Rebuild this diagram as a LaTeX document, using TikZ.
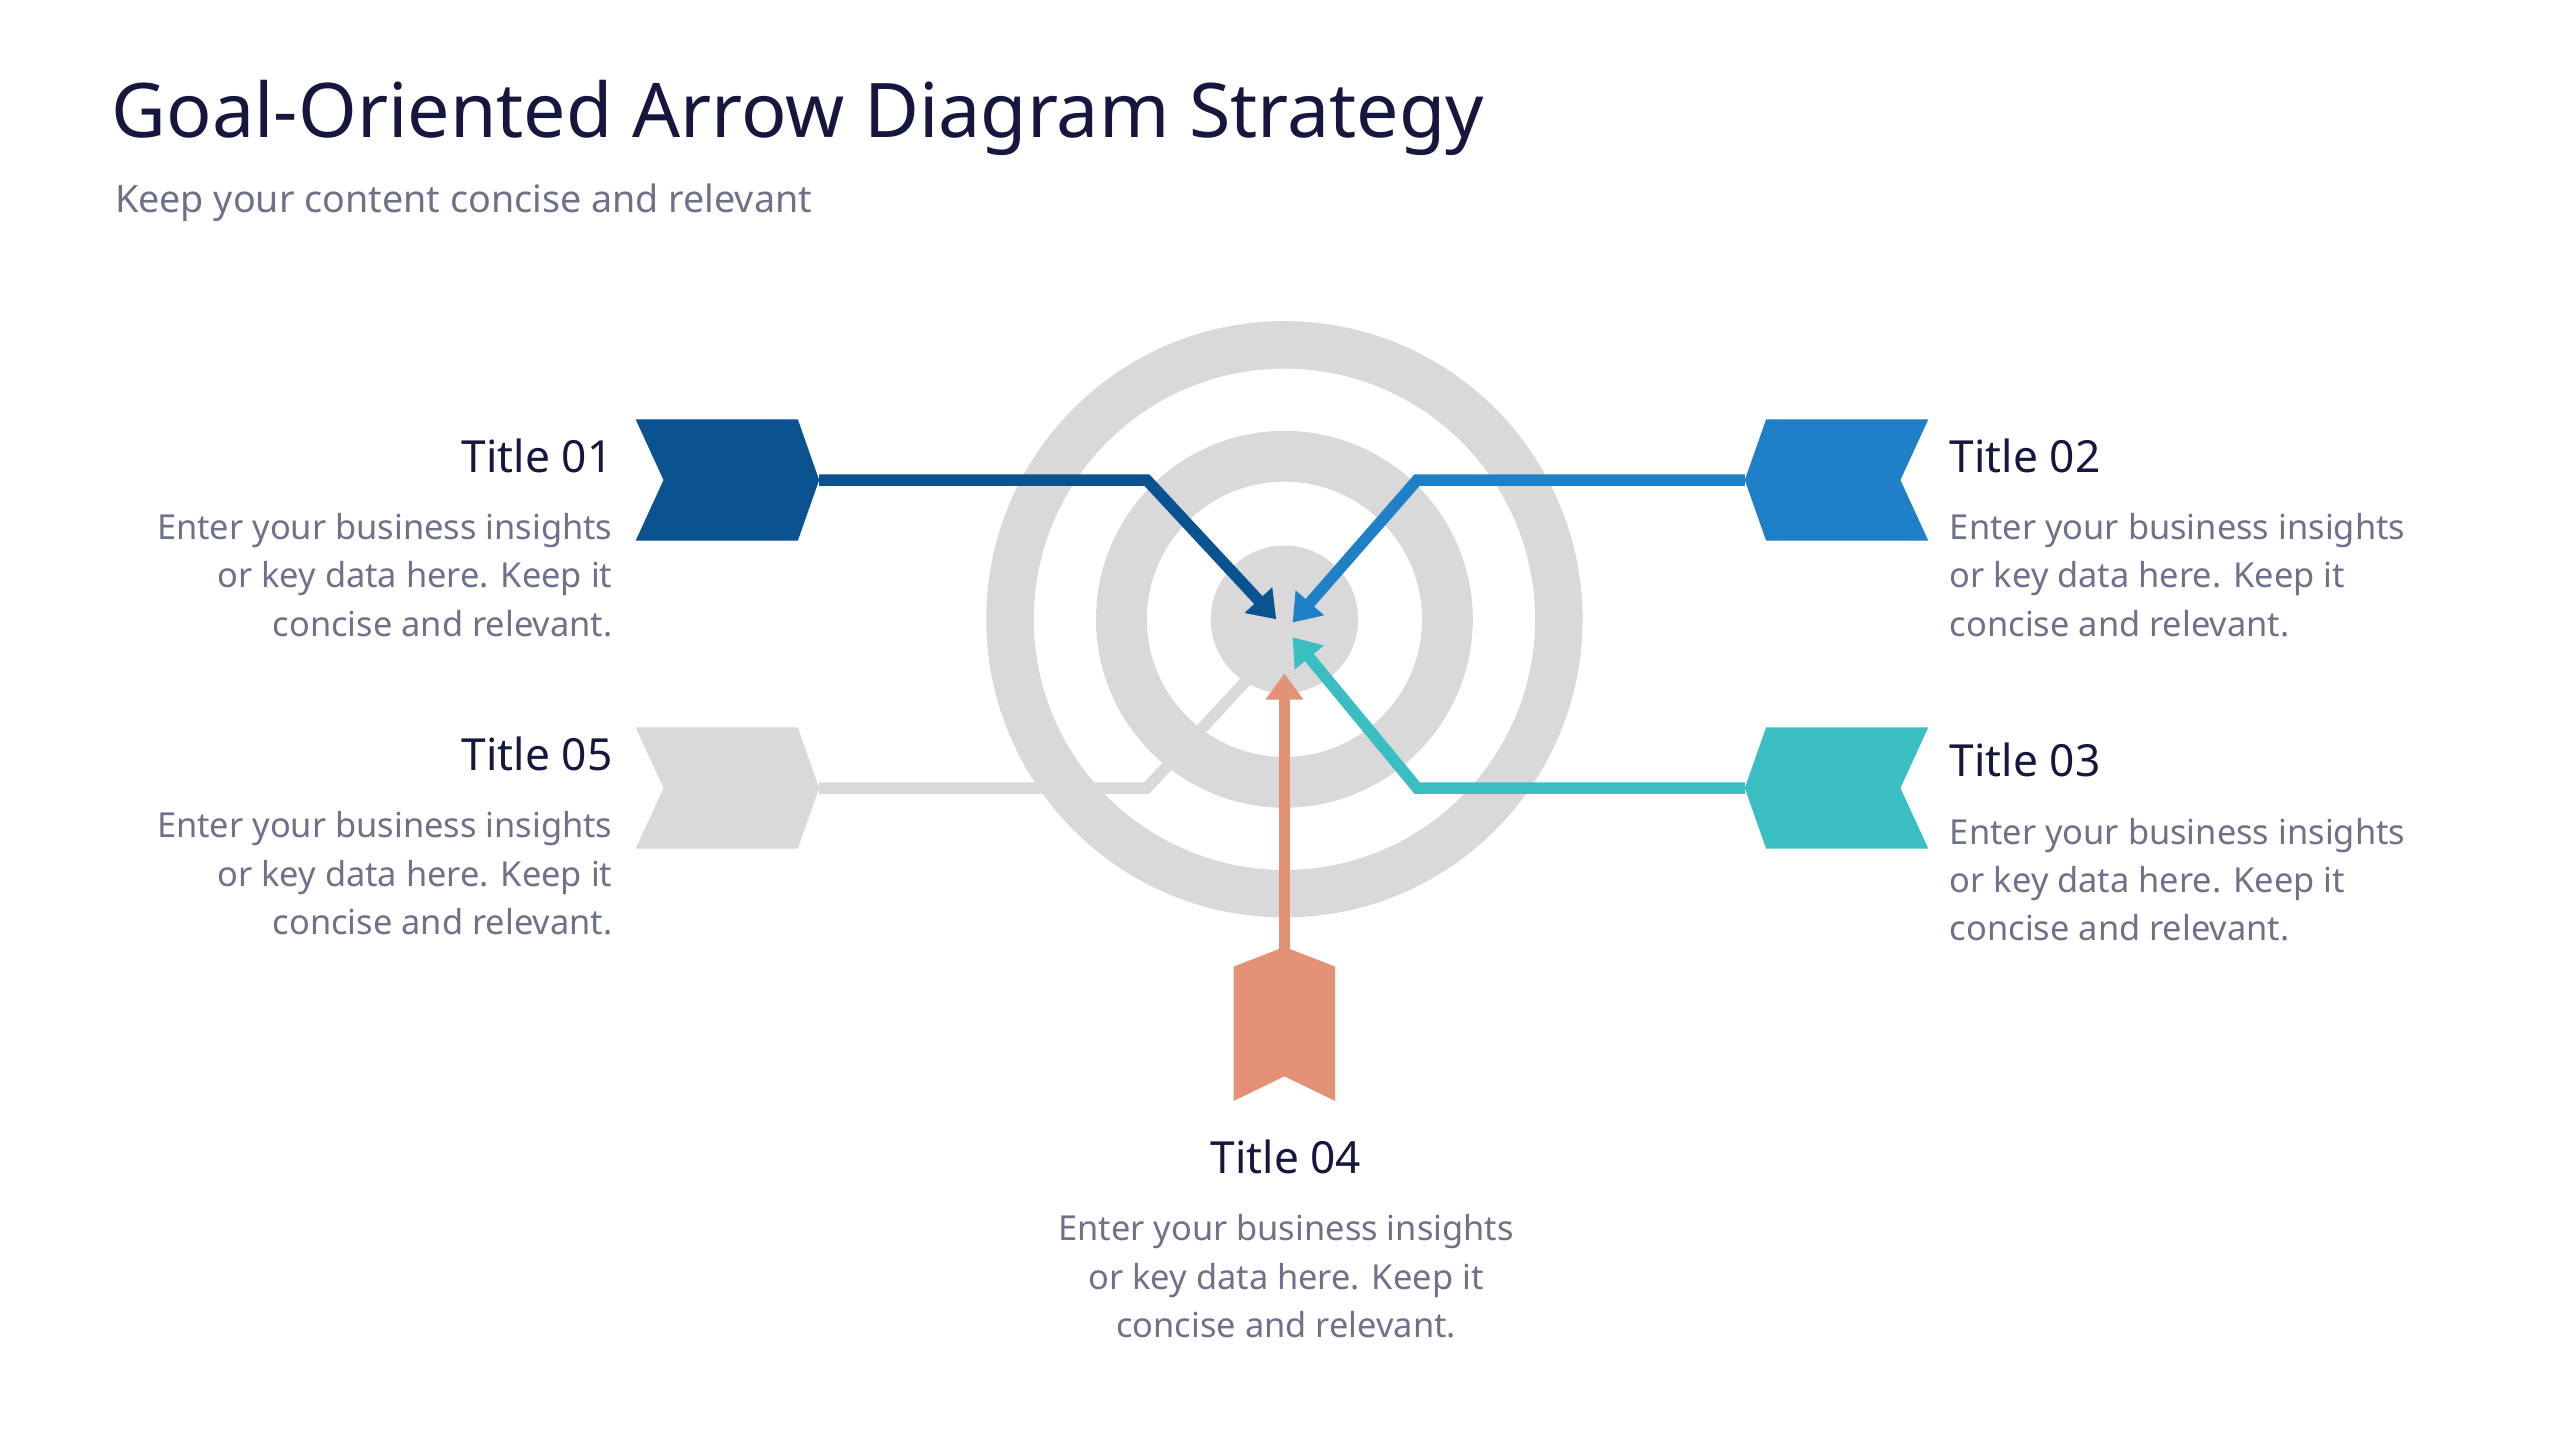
\documentclass[tikz,border=0pt]{standalone}
\usepackage{fontspec}
\setmainfont{Noto Sans}
\usetikzlibrary{arrows.meta}
\definecolor{navy}{HTML}{15173F}
\definecolor{bodyg}{HTML}{6E7189}
\definecolor{cA}{HTML}{0B5291}
\definecolor{cB}{HTML}{1F80C8}
\definecolor{cC}{HTML}{3BBEC2}
\definecolor{cD}{HTML}{E49275}
\definecolor{cE}{HTML}{D9D9D9}
\tikzset{
 ttl/.style={font=\fontsize{27}{30}\selectfont\bfseries, text=navy, inner sep=0},
 bdy/.style={font=\fontsize{21}{29.5}\selectfont, text=bodyg, inner sep=0},
 conn/.style={line width=7pt, line join=miter},
 tip/.style={-{Triangle[width=22pt,length=16pt]}},
}
\begin{document}
\begin{tikzpicture}[x=1pt,y=-1pt]
\useasboundingbox (0,0) rectangle (1562,879);
% target
\fill[cE,even odd rule] (784,378) circle (182) (784,378) circle (153);
\fill[cE,even odd rule] (784,378) circle (115) (784,378) circle (84);
\fill[cE] (784,378) circle (45);
% title
\node[anchor=west,inner sep=0,font=\fontsize{46}{50}\selectfont\bfseries,text=navy] (T) at (68,72) {Goal-Oriented Arrow Diagram Strategy};
\node[anchor=west,inner sep=0,font=\fontsize{23}{28}\selectfont,text=bodyg] (S) at (70,124) {Keep your content concise and relevant};
% coordinates
\coordinate (a1) at (500,293); \coordinate (k1) at (700,293); \coordinate (e1) at (779,378);
\coordinate (a2) at (1065,293); \coordinate (k2) at (865,293); \coordinate (e2) at (789,380);
\coordinate (a3) at (1065,481); \coordinate (k3) at (865,481); \coordinate (e3) at (789,389);
\coordinate (a5) at (500,481); \coordinate (k5) at (700,481); \coordinate (e5) at (762,414);
\coordinate (a4) at (784,583); \coordinate (e4) at (784,411);
% gray arrow
\draw[conn,cE] (a5) -- (k5) -- (e5);
\fill[cE] (388,444) -- (487,444) -- (500,481) -- (487,518) -- (388,518) -- (405,481) -- cycle;
% arrows
\draw[conn,cA,tip] (a1) -- (k1) -- (e1);
\fill[cA] (388,256) -- (487,256) -- (500,293) -- (487,330) -- (388,330) -- (405,293) -- cycle;
\draw[conn,cB,tip] (a2) -- (k2) -- (e2);
\fill[cB] (1177,256) -- (1078,256) -- (1065,293) -- (1078,330) -- (1177,330) -- (1160,293) -- cycle;
\draw[conn,cC,tip] (a3) -- (k3) -- (e3);
\fill[cC] (1177,444) -- (1078,444) -- (1065,481) -- (1078,518) -- (1177,518) -- (1160,481) -- cycle;
\draw[conn,cD,tip] (a4) -- (e4);
\fill[cD] (753,590) -- (784,578) -- (815,590) -- (815,672) -- (784,657) -- (753,672) -- cycle;
% texts
\node[ttl,anchor=east] (t1) at (374,278) {Title 01};
\node[bdy,anchor=east,align=right] (b1) at (374,351) {Enter your business insights\\or key data here. Keep it\\concise and relevant.};
\node[ttl,anchor=east] (t5) at (374,460) {Title 05};
\node[bdy,anchor=east,align=right] (b5) at (374,533) {Enter your business insights\\or key data here. Keep it\\concise and relevant.};
\node[ttl,anchor=west] (t2) at (1190,278) {Title 02};
\node[bdy,anchor=west,align=left] (b2) at (1190,351) {Enter your business insights\\or key data here. Keep it\\concise and relevant.};
\node[ttl,anchor=west] (t3) at (1190,464) {Title 03};
\node[bdy,anchor=west,align=left] (b3) at (1190,537) {Enter your business insights\\or key data here. Keep it\\concise and relevant.};
\node[ttl] (t4) at (785,706) {Title 04};
\node[bdy,align=center] (b4) at (785,779) {Enter your business insights\\or key data here. Keep it\\concise and relevant.};
\end{tikzpicture}
\end{document}
